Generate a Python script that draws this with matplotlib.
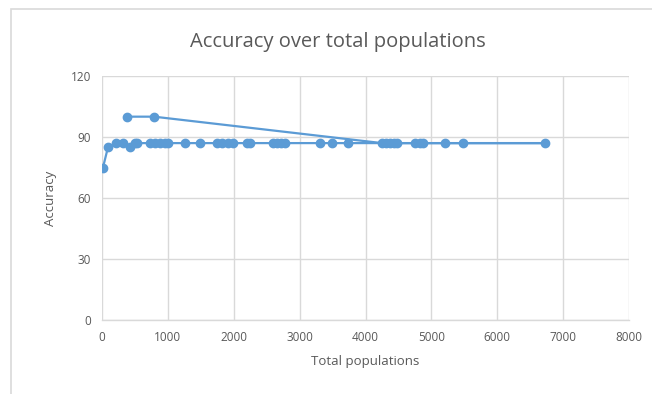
import matplotlib
matplotlib.use("Agg")
import matplotlib.pyplot as plt
from matplotlib.patches import Rectangle

# Series in recorded order (population, accuracy)
total_populations = [380, 790, 4250, 4310, 4370, 4430, 4476, 4750, 4825, 4871,
                     5205, 5478, 6722, 3733, 3490, 3308, 2777, 2716, 2655, 2595,
                     2246, 2200, 1988, 1912, 1821, 1745, 1487, 1260, 1000, 956,
                     880, 804, 728, 531, 500, 425, 318, 212, 91, 15]
accuracy = [100, 100, 87, 87, 87, 87, 87, 87, 87, 87,
            87, 87, 87, 87, 87, 87, 87, 87, 87, 87,
            87, 87, 87, 87, 87, 87, 87, 87, 87, 87,
            87, 87, 87, 87, 87, 85, 87, 87, 85, 75]

x_ticks = [0, 1000, 2000, 3000, 4000, 5000, 6000, 7000, 8000]
y_ticks = [0, 30, 60, 90, 120]

title = "Accuracy over total populations"
x_label = "Total populations"
y_label = "Accuracy"

blue = "#5B9BD5"
text_grey = "#595959"
grid_grey = "#D9D9D9"

plt.rcParams["font.family"] = ["Open Sans", "DejaVu Sans"]

fig = plt.figure(figsize=(6.52, 3.94), dpi=100)
fig.patch.set_facecolor("white")

# chart frame
fig.patches.append(Rectangle((11 / 652, -0.1), 1.2, 1 - 9 / 394 + 0.1,
                             transform=fig.transFigure, fill=False,
                             edgecolor=grid_grey, linewidth=1.2))

ax = fig.add_axes([102 / 652, 1 - 320 / 394, (629 - 102) / 652, (320 - 76) / 394])
ax.plot(total_populations, accuracy, color=blue, linewidth=1.6,
        marker="o", markersize=6, markerfacecolor=blue, markeredgecolor=blue,
        zorder=3)

ax.set_xlim(0, 8000)
ax.set_ylim(0, 120)
ax.set_xticks(x_ticks)
ax.set_yticks(y_ticks)
ax.grid(True, color=grid_grey, linewidth=1.0)
ax.set_axisbelow(True)
for side in ["top", "right", "left"]:
    ax.spines[side].set_visible(False)
ax.spines["bottom"].set_color(grid_grey)
ax.spines["bottom"].set_linewidth(1.0)
ax.tick_params(length=0, labelsize=8.5, labelcolor=text_grey, pad=8)

ax.set_xlabel(x_label, fontsize=9.5, color=text_grey, labelpad=8)
ax.set_ylabel(y_label, fontsize=9.5, color=text_grey, labelpad=10)
fig.text(338 / 652, 1 - 42 / 394, title, ha="center", va="center",
         fontsize=14.5, color=text_grey)

fig.savefig("out.png", dpi=100, facecolor="white")
